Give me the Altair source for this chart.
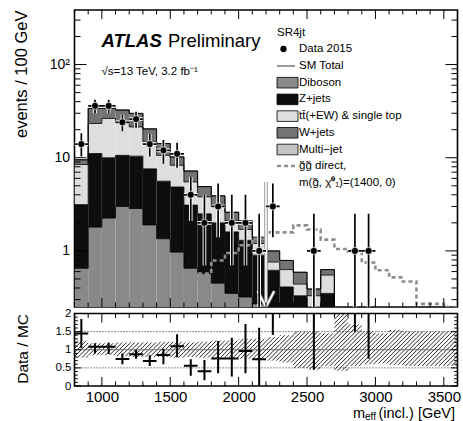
import altair as alt
import pandas as pd
import numpy as np

FONT = "Liberation Sans"

# ---------------- data ----------------
bin_low = [800, 900, 1000, 1100, 1200, 1300, 1400, 1500, 1600, 1700, 1800, 1900, 2000, 2100,
           2200, 2300, 2400, 2500, 2600, 2700, 2800, 2900, 3000, 3100, 3200, 3300, 3400, 3500]
bin_width = 100

diboson = [0.65, 1.80, 2.25, 3.00, 2.85, 1.90, 1.35, 0.97, 0.65, 0.57, 0.45, 0.35, 0.32, 0.27,
           0.18, 0.10, 0.08, 0.05, 0.05, 0.01, 0.01, 0.02, 0.01, 0.01, 0.01, 0.01, 0.01, 0.01]
zjets = [2.49, 9.30, 7.75, 7.60, 7.55, 5.70, 4.25, 3.88, 2.45, 1.93, 1.55, 1.25, 0.98, 0.63,
         0.44, 0.31, 0.25, 0.20, 0.30, 0.05, 0.05, 0.12, 0.04, 0.03, 0.02, 0.02, 0.02, 0.02]
ttbar = [5.31, 12.2, 16.4, 13.7, 11.0, 7.20, 5.00, 3.45, 2.40, 1.30, 1.00, 0.50, 0.40, 0.30,
         0.14, 0.22, 0.11, 0.08, 0.20, 0.03, 0.03, 0.05, 0.02, 0.02, 0.01, 0.01, 0.01, 0.01]
wjets = [1.05, 10.5, 7.60, 8.20, 8.50, 5.60, 3.60, 1.90, 1.70, 1.10, 0.90, 0.50, 0.40, 0.20,
         0.24, 0.16, 0.15, 0.06, 0.08, 0.03, 0.02, 0.04, 0.02, 0.01, 0.01, 0.01, 0.01, 0.01]
multijet = [0.02, 0.05, 0.04, 0.03, 0.03, 0.02, 0.01, 0.01, 0.01, 0.0, 0.0, 0.0, 0.0, 0.0,
            0.0, 0.0, 0.0, 0.0, 0.0, 0.0, 0.0, 0.0, 0.0, 0.0, 0.0, 0.0, 0.0, 0.0]

signal = [0.005, 0.008, 0.01, 0.02, 0.03, 0.05, 0.10, 0.28, 0.46, 0.57, 0.79, 0.95, 1.15, 1.35,
          1.58, 1.58, 1.88, 1.70, 1.32, 1.05, 0.98, 0.75, 0.62, 0.52, 0.47, 0.27, 0.27, 0.25]

data_x = [850, 950, 1050, 1150, 1250, 1350, 1450, 1550, 1650, 1750, 1850, 1950, 2050, 2150,
          2250, 2550, 2850, 2950]
data_n = [14, 36, 36, 24, 26, 14, 12, 11, 4, 2, 3, 2, 2, 1, 3, 1, 1, 1]
data_lo = [10.3, 30.0, 30.0, 19.2, 21.0, 10.3, 8.6, 7.8, 2.1, 0.7, 1.4, 0.7, 0.7, 0.17,
           1.4, 0.17, 0.17, 0.17]
data_hi = [18.3, 42.0, 42.0, 29.0, 31.2, 18.0, 15.5, 14.5, 6.2, 4.0, 5.3, 4.0, 4.0, 2.5,
           5.3, 2.5, 2.5, 2.5]

ratio_val = [1.45, 1.08, 1.08, 0.745, 0.875, 0.69, 0.855, 1.10, 0.56, 0.41, 0.76, 0.76, 0.965, 0.74,
             3.0, 2.56, 9.0, 4.3]
ratio_lo = [1.04, 0.90, 0.88, 0.60, 0.75, 0.55, 0.60, 0.79, 0.28, 0.16, 0.35, 0.26, 0.35, 0.0,
            1.41, 0.45, 1.50, 0.75]
ratio_hi = [1.85, 1.18, 1.20, 0.90, 1.00, 0.85, 1.03, 1.43, 0.74, 0.72, 1.24, 1.33, 1.71, 1.61,
            5.3, 6.4, 22.0, 10.8]

band_lo = [0.78, 0.85, 0.85, 0.82, 0.80, 0.80, 0.80, 0.78, 0.80, 0.78, 0.78, 0.78, 0.75, 0.72,
           0.70, 0.65, 0.50, 0.45, 0.55, 0.42, 0.55, 0.60, 0.62, 0.58, 0.55, 0.55, 0.55, 0.55]
band_hi = [1.25, 1.18, 1.18, 1.20, 1.20, 1.20, 1.22, 1.22, 1.20, 1.22, 1.25, 1.25, 1.30, 1.30,
           1.35, 1.40, 1.50, 1.50, 1.45, 2.50, 1.70, 1.50, 1.45, 1.55, 1.50, 1.50, 1.50, 1.50]

cut_value = 2200
cut_arrow_top = 5.5
cut_head_y = 0.37
cut_head_half = 60

x_major = [1000, 1500, 2000, 2500, 3000, 3500]
x_minor = [v for v in range(800, 3601, 100) if v not in x_major]
y_major = [1, 10, 100]
y_minor = [0.3, 0.4, 0.5, 0.6, 0.7, 0.8, 0.9, 2, 3, 4, 5, 6, 7, 8, 9,
           20, 30, 40, 50, 60, 70, 80, 90, 200, 300]
r_major = [0, 0.5, 1, 1.5, 2]
r_minor = [0.1, 0.2, 0.3, 0.4, 0.6, 0.7, 0.8, 0.9, 1.1, 1.2, 1.3, 1.4, 1.6, 1.7, 1.8, 1.9]

comps = ["Diboson", "Z+jets", "ttbar", "W+jets", "Multi-jet"]
comp_vals = [diboson, zjets, ttbar, wjets, multijet]
comp_cols = ["#898989", "#0e0e0e", "#dedede", "#737373", "#c4c4c4"]

# ---------------- geometry ----------------
W, HM, HR = 383, 297, 72.5
GAP = 6.5
XMIN, XMAX = 800, 3600
YMIN, YMAX = 0.25, 385

xs = alt.Scale(domain=[XMIN, XMAX], nice=False, zero=False)
ys = alt.Scale(type="log", domain=[YMIN, YMAX], nice=False)
rs = alt.Scale(domain=[0, 2], nice=False, zero=False)

main_yaxis = alt.Axis(values=y_major,
                      labelExpr="datum.value >= 100 ? '10²' : (datum.value >= 10 ? '10' : '1')",
                      ticks=False, domain=False, grid=False, labelFont=FONT, labelFontSize=14,
                      labelPadding=5, labelColor="black", labelOverlap=False, labelFlush=False,
                      title="events / 100 GeV", titleFont=FONT, titleFontSize=16.5,
                      titleFontWeight="normal", titleColor="black", titleAngle=270,
                      titleAlign="right", titleBaseline="middle", titleX=-53, titleY=0)
ratio_yaxis = alt.Axis(values=r_major, format="~g", ticks=False, domain=False, grid=False,
                       labelFont=FONT, labelFontSize=11.5, labelPadding=3.5, labelColor="black",
                       labelOverlap=False, labelFlush=False,
                       title="Data / MC", titleFont=FONT, titleFontSize=15.5, titleFontWeight="normal",
                       titleColor="black", titleAngle=270, titleAlign="right", titleBaseline="middle",
                       titleX=-52, titleY=0)
ratio_xaxis = alt.Axis(values=x_major, format="d", ticks=False, domain=False, grid=False,
                       labelFont=FONT, labelFontSize=15, labelPadding=3, labelColor="black",
                       labelOverlap=False, labelFlush=False, title=None)


def MX(f):
    return alt.X(f, scale=xs, axis=None)


def MY(f):
    return alt.Y(f, scale=ys, axis=main_yaxis)


def RX(f):
    return alt.X(f, scale=xs, axis=ratio_xaxis)


def RY(f):
    return alt.Y(f, scale=rs, axis=ratio_yaxis)


# ---------------- stacked histogram ----------------
rows = []
levels = []
cum = np.zeros(len(bin_low))
for name, vals in zip(comps, comp_vals):
    v = np.array(vals, float)
    new = cum + v
    for i, lo in enumerate(bin_low):
        if v[i] > 0:
            rows.append(dict(comp=name, x=lo, x2=lo + bin_width,
                             y=max(cum[i], 1e-3), y2=new[i]))
    levels.append(new.copy())
    cum = new
stack_df = pd.DataFrame(rows)

edges = bin_low + [bin_low[-1] + bin_width]
step_rows = []
for k, lev in enumerate(levels):
    vals = list(np.maximum(lev, 1e-3)) + [max(lev[-1], 1e-3)]
    for e, v in zip(edges, vals):
        step_rows.append(dict(level=k, x=e, y=v))
step_df = pd.DataFrame(step_rows)

sig_df = pd.DataFrame(dict(x=edges, y=signal + [signal[-1]]))

rects = alt.Chart(stack_df).mark_rect(clip=True).encode(
    x=MX("x:Q"), x2="x2:Q", y=MY("y:Q"), y2="y2:Q",
    color=alt.Color("comp:N", scale=alt.Scale(domain=comps, range=comp_cols), legend=None))

steps = alt.Chart(step_df).mark_line(interpolate="step-after", color="black",
                                     strokeWidth=0.8, clip=True).encode(
    x=MX("x:Q"), y=MY("y:Q"), detail="level:N")

sig = alt.Chart(sig_df).mark_line(interpolate="step-after", color="#8e8e8e", strokeWidth=2.6,
                                  strokeDash=[4, 3], clip=True).encode(
    x=MX("x:Q"), y=MY("y:Q"))

# cut arrow
cut_df = pd.DataFrame(dict(x=[cut_value], y=[cut_arrow_top], y2=[YMIN]))
head_df = pd.DataFrame(dict(x=[cut_value - cut_head_half, cut_value + cut_head_half],
                            x2=[cut_value, cut_value], y=[cut_head_y, cut_head_y], y2=[YMIN, YMIN]))
cut_layers = []
for col, wdt in [("#9c9c9c", 3.6), ("white", 1.6)]:
    cut_layers.append(alt.Chart(cut_df).mark_rule(color=col, strokeWidth=wdt, clip=True).encode(
        x=MX("x:Q"), y=MY("y:Q"), y2="y2:Q"))
for col, wdt in [("#9c9c9c", 3.2), ("white", 1.6)]:
    cut_layers.append(alt.Chart(head_df).mark_rule(color=col, strokeWidth=wdt, clip=True).encode(
        x=MX("x:Q"), x2="x2:Q", y=MY("y:Q"), y2="y2:Q"))

# data points
ddf = pd.DataFrame(dict(x=data_x, n=data_n, lo=data_lo, hi=data_hi))
ddf["xl"] = ddf["x"] - bin_width / 2
ddf["xr"] = ddf["x"] + bin_width / 2
data_layers = []
for col, wdt in [("white", 3.6), ("black", 1.7)]:
    data_layers.append(alt.Chart(ddf).mark_rule(color=col, strokeWidth=wdt, clip=True).encode(
        x=MX("x:Q"), y=MY("lo:Q"), y2="hi:Q"))
    data_layers.append(alt.Chart(ddf).mark_rule(color=col, strokeWidth=wdt, clip=True).encode(
        x=MX("xl:Q"), x2="xr:Q", y=MY("n:Q")))
data_layers.append(alt.Chart(ddf).mark_circle(fill="black", stroke="white", strokeWidth=0.7,
                                              size=50, opacity=1, clip=True).encode(
    x=MX("x:Q"), y=MY("n:Q")))


def x_ticks(values, length, height, X):
    df = pd.DataFrame({"v": values})
    base = alt.Chart(df).mark_rule(color="black", strokeWidth=1)
    return [base.encode(x=X("v:Q"), y=alt.value(height), y2=alt.value(height - length)),
            base.encode(x=X("v:Q"), y=alt.value(0), y2=alt.value(length))]


def y_ticks(values, Y, length, width):
    df = pd.DataFrame({"v": values})
    base = alt.Chart(df).mark_rule(color="black", strokeWidth=1)
    return [base.encode(y=Y("v:Q"), x=alt.value(0), x2=alt.value(length)),
            base.encode(y=Y("v:Q"), x=alt.value(width), x2=alt.value(width - length))]


one = pd.DataFrame({"a": [0]})


def txt(text, x, y, size, align="left", baseline="middle", weight="normal", style="normal"):
    return alt.Chart(pd.DataFrame({"t": [text]})).mark_text(
        font=FONT, fontSize=size, align=align, baseline=baseline, fontWeight=weight,
        fontStyle=style, color="black").encode(x=alt.value(x), y=alt.value(y), text="t:N")


def box(x, x2, y, y2, fill):
    return alt.Chart(one).mark_rect(fill=fill, stroke="black", strokeWidth=0.8).encode(
        x=alt.value(x), x2=alt.value(x2), y=alt.value(y), y2=alt.value(y2))


# legend (pixel positions inside the main panel)
LX, TX = 202.5, 224.5
leg = [txt("SR4jt", LX, 23, 11.5),
       alt.Chart(one).mark_circle(fill="black", size=40, opacity=1).encode(x=alt.value(209), y=alt.value(39)),
       txt("Data 2015", TX, 39, 11.5),
       alt.Chart(one).mark_rule(color="#999999", strokeWidth=2).encode(
           x=alt.value(LX), x2=alt.value(LX + 18), y=alt.value(56)),
       txt("SM Total", TX, 56, 11.5)]
leg_items = [("Diboson", comp_cols[0], 72.7), ("Z+jets", comp_cols[1], 89.4),
             ("tt̄(+EW) & single top", comp_cols[2], 106.1), ("W+jets", comp_cols[3], 122.8),
             ("Multi−jet", comp_cols[4], 139.5)]
for label, colr, yc in leg_items:
    leg.append(box(LX, LX + 21, yc - 5.3, yc + 5.3, colr))
    leg.append(txt(label, TX, yc, 11.5))
leg.append(alt.Chart(one).mark_rule(color="#8e8e8e", strokeWidth=2.4, strokeDash=[4, 3]).encode(
    x=alt.value(LX), x2=alt.value(LX + 20), y=alt.value(156)))
leg.append(txt("g̃g̃ direct,", TX, 156, 11.5))
leg.append(txt("m(g̃, χ̃⁰₁)=(1400, 0)", TX, 172.5, 11.5))

labels = [txt("ATLAS", 27, 36.5, 18.5, baseline="alphabetic", weight="bold", style="italic"),
          txt("Preliminary", 93.5, 36.5, 18.5, baseline="alphabetic"),
          txt("√s=13 TeV, 3.2 fb⁻¹", 27, 61.5, 11.5)]

main = alt.layer(
    rects, steps, sig, *cut_layers, *data_layers,
    *x_ticks(x_major, 9, HM, MX), *x_ticks(x_minor, 4.5, HM, MX),
    *y_ticks(y_major, MY, 12, W), *y_ticks(y_minor, MY, 6, W),
    *leg, *labels
).properties(width=W, height=HM)

# ---------------- ratio panel ----------------
S = 4.2
hrows = []
for lo_e, blo, bhi in zip(bin_low, band_lo, band_hi):
    xa = (lo_e - XMIN) / (XMAX - XMIN) * W
    xb = (lo_e + bin_width - XMIN) / (XMAX - XMIN) * W
    ya = blo / 2 * HR
    yb = min(bhi, 2) / 2 * HR
    kmin = int(np.floor((xa - yb) / S))
    kmax = int(np.ceil((xb - ya) / S))
    for k in range(kmin, kmax + 1):
        c = k * S
        y0 = max(ya, xa - c)
        y1 = min(yb, xb - c)
        if y1 > y0:
            hrows.append(dict(x=XMIN + (y0 + c) / W * (XMAX - XMIN), y=y0 / HR * 2,
                              x2=XMIN + (y1 + c) / W * (XMAX - XMIN), y2=y1 / HR * 2))
hatch_df = pd.DataFrame(hrows)

hatch = alt.Chart(hatch_df).mark_rule(color="#262626", strokeWidth=1, clip=True).encode(
    x=RX("x:Q"), x2="x2:Q", y=RY("y:Q"), y2="y2:Q")

ref_df = pd.DataFrame({"v": [1.0]})
dot_df = pd.DataFrame({"v": [0.5, 1.5]})
ref_line = alt.Chart(ref_df).mark_rule(color="#6e6e6e", strokeWidth=1).encode(y=RY("v:Q"))
dot_lines = alt.Chart(dot_df).mark_rule(color="black", strokeWidth=0.9, strokeDash=[1, 2]).encode(
    y=RY("v:Q"))

rdf = pd.DataFrame(dict(x=data_x, r=ratio_val, lo=ratio_lo, hi=ratio_hi))
rdf["xl"] = rdf["x"] - bin_width / 2
rdf["xr"] = rdf["x"] + bin_width / 2
r_v = alt.Chart(rdf).mark_rule(color="black", strokeWidth=2, clip=True).encode(
    x=RX("x:Q"), y=RY("lo:Q"), y2="hi:Q")
r_h = alt.Chart(rdf).mark_rule(color="black", strokeWidth=2, clip=True).encode(
    x=RX("xl:Q"), x2="xr:Q", y=RY("r:Q"))

xtitle = [txt("m", 278.5, 104.5, 14.5, baseline="alphabetic"),
          txt("eff", 290.5, 106.5, 10, baseline="alphabetic"),
          txt("(incl.) [GeV]", 304, 104.5, 14.5, baseline="alphabetic")]

ratio = alt.layer(
    hatch, ref_line, dot_lines, r_v, r_h,
    *x_ticks(x_major, 9, HR, RX), *x_ticks(x_minor, 4.5, HR, RX),
    *y_ticks(r_major, RY, 6.5, W), *y_ticks(r_minor, RY, 3.3, W),
    *xtitle
).properties(width=W, height=HR)

TOTAL_W, TOTAL_H = 463, 421
PAD_L, PAD_T = 74.5, 10
# with autosize "none" the concatenated view reports the shared width but a zero height
chart = alt.vconcat(main, ratio, spacing=GAP, bounds="flush").properties(
    padding={"left": PAD_L, "top": PAD_T,
             "right": TOTAL_W - PAD_L - W,
             "bottom": TOTAL_H - PAD_T},
    autosize=alt.AutoSizeParams(type="none"),
).configure(background="white").configure_view(stroke="black", strokeWidth=1.6)

chart.save("out.html", embed_options={"renderer": "svg", "actions": False})
